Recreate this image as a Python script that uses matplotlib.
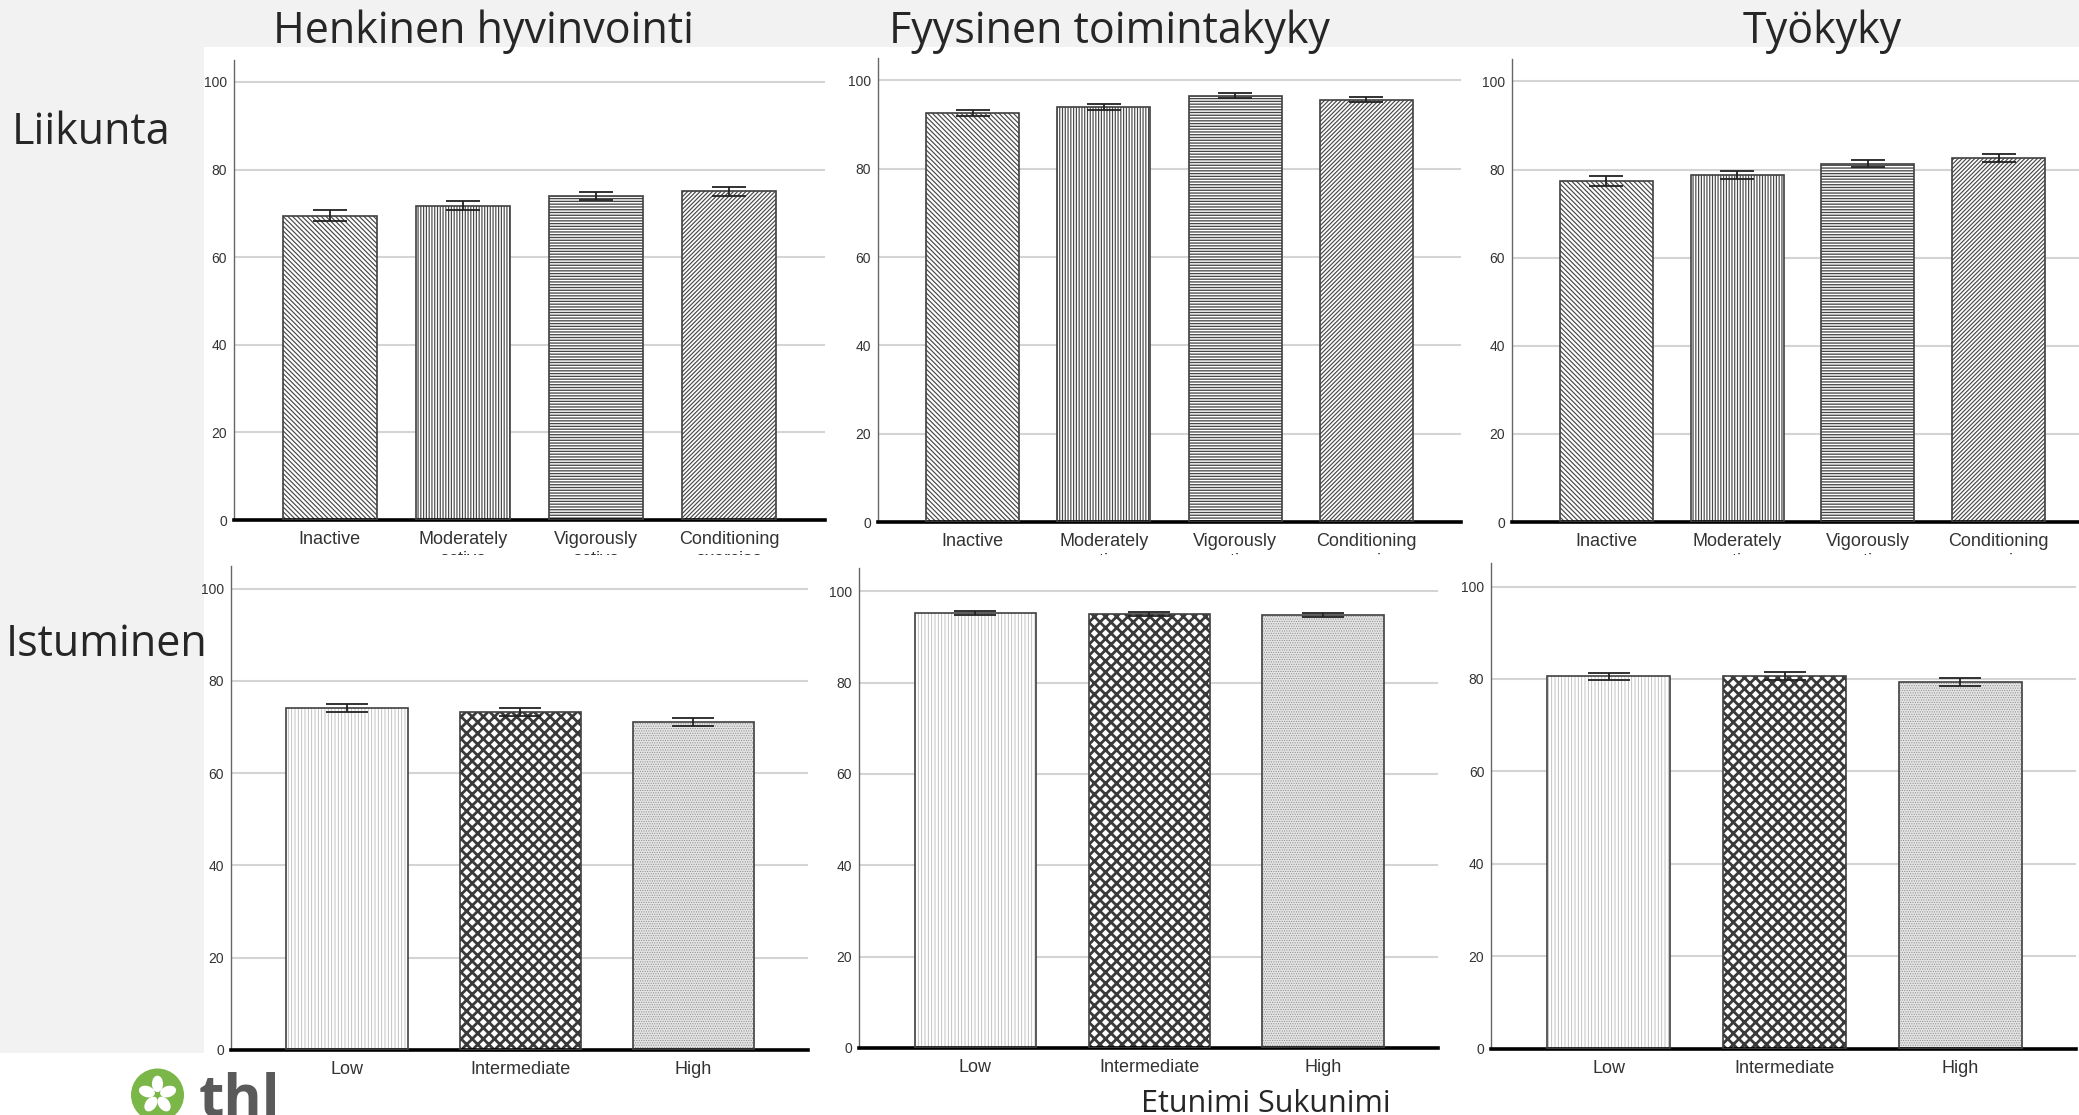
import numpy as np
import matplotlib
matplotlib.use('Agg')
import matplotlib.pyplot as plt
from matplotlib.patches import Rectangle, Circle, Ellipse
from matplotlib.transforms import IdentityTransform

W, H = 2079, 1115

activity_groups = ['Inactive', 'Moderately\nactive', 'Vigorously\nactive', 'Conditioning\nexercise']
sitting_groups = ['Low', 'Intermediate', 'High']

mental_activity = [69.5, 71.8, 74.0, 75.0]
mental_activity_err = [1.2, 1.0, 0.85, 1.05]
physical_activity = [92.6, 93.9, 96.5, 95.6]
physical_activity_err = [0.75, 0.65, 0.55, 0.6]
work_activity = [77.4, 78.8, 81.3, 82.6]
work_activity_err = [1.15, 0.95, 0.75, 0.95]

mental_sitting = [74.1, 73.2, 71.1]
mental_sitting_err = [0.85, 0.85, 0.85]
physical_sitting = [95.2, 95.0, 94.85]
physical_sitting_err = [0.5, 0.5, 0.5]
work_sitting = [80.6, 80.6, 79.3]
work_sitting_err = [0.8, 0.85, 0.85]

column_titles = ['Henkinen hyvinvointi', 'Fyysinen toimintakyky', 'Työkyky']
row_titles = ['Liikunta', 'Istuminen']
presenter = 'Etunimi Sukunimi'

# hatch, hatch colour, face colour, hatch line width
activity_styles = [('\\' * 7, '#484848', 'white', 0.85),
                   ('|' * 6, '#484848', 'white', 0.85),
                   ('-' * 6, '#484848', 'white', 0.95),
                   ('/' * 8, '#484848', 'white', 0.85)]
sitting_styles = [('|' * 5, '#b8b8b8', 'white', 0.6),
                  ('xxx', '#3a3a3a', 'white', 2.0),
                  ('.' * 7, '#8c8c8c', '#e4e4e4', 0.5)]

fig = plt.figure(figsize=(W / 100, H / 100), dpi=100)
fig.patch.set_facecolor('white')


def px_rect(x0, y0, x1, y1, **kw):
    # rectangle given in pixel coords measured from the top-left corner
    r = Rectangle((x0 / W, 1 - y1 / H), (x1 - x0) / W, (y1 - y0) / H,
                  transform=fig.transFigure, **kw)
    fig.add_artist(r)
    return r


# slide background: grey header strip and left band
px_rect(0, 0, W, 47, facecolor='#f2f2f2', edgecolor='none', zorder=-5)
px_rect(0, 47, 204, 1053, facecolor='#f2f2f2', edgecolor='none', zorder=-5)

# the lower chart images sit on top of the upper ones
px_rect(204, 555, W, H, facecolor='white', edgecolor='none', zorder=1)


def place_axes(left, right, y0, y100, z):
    top = y0 - 1.05 * (y0 - y100)
    return fig.add_axes([left / W, 1 - y0 / H, (right - left) / W, (y0 - top) / H], zorder=z)


def draw_panel(ax, labels, values, errors, styles, xlim, width, capsize):
    x = np.arange(len(values))
    for xi, v, (hatch, hcolor, face, hlw) in zip(x, values, styles):
        bars = ax.bar(xi, v, width, color=face, edgecolor=hcolor, hatch=hatch,
                      linewidth=0, zorder=2)
        for b in bars:
            try:
                b.set_hatch_linewidth(hlw)
            except AttributeError:
                pass
    ax.bar(x, values, width, fill=False, edgecolor='#404040', linewidth=1.2, zorder=3)
    ax.errorbar(x, values, yerr=errors, fmt='none', ecolor='#222222',
                elinewidth=1.3, capsize=capsize, capthick=1.3, zorder=4)

    ax.set_xlim(*xlim)
    ax.set_ylim(0, 105)
    ax.set_yticks([0, 20, 40, 60, 80, 100])
    ax.yaxis.grid(True, color='#d4d4d4', linewidth=1.5)
    ax.set_axisbelow(True)
    ax.set_xticks(x, labels)
    for lab in ax.get_xticklabels() + ax.get_yticklabels():
        lab.set_family('Liberation Sans')
    ax.tick_params(axis='x', length=0, pad=8, labelsize=13, labelcolor='#333333')
    ax.tick_params(axis='y', length=0, pad=5, labelsize=10, labelcolor='#333333')

    ax.spines['top'].set_visible(False)
    ax.spines['right'].set_visible(False)
    ax.spines['left'].set_color('#666666')
    ax.spines['left'].set_linewidth(1.0)
    ax.spines['bottom'].set_color('black')
    ax.spines['bottom'].set_linewidth(2.6)
    ax.set_facecolor('white')


top_lim, top_width = (-0.72, 3.72), 0.71
low_lim, low_width = (-0.67, 2.66), 0.70

a1 = place_axes(234, 825, 520, 82, 0)
a2 = place_axes(878, 1461, 522, 80.4, 0)
a3 = place_axes(1512, 2093, 522, 81.4, 0)
draw_panel(a1, activity_groups, mental_activity, mental_activity_err, activity_styles, top_lim, top_width, 12)
draw_panel(a2, activity_groups, physical_activity, physical_activity_err, activity_styles, top_lim, top_width, 12)
draw_panel(a3, activity_groups, work_activity, work_activity_err, activity_styles, top_lim, top_width, 12)

b1 = place_axes(231, 807.6, 1049.7, 588.8, 2)
b2 = place_axes(859, 1438, 1047.9, 591.3, 2)
b3 = place_axes(1491.3, 2076, 1048.6, 586.6, 2)
draw_panel(b1, sitting_groups, mental_sitting, mental_sitting_err, sitting_styles, low_lim, low_width, 15)
draw_panel(b2, sitting_groups, physical_sitting, physical_sitting_err, sitting_styles, low_lim, low_width, 15)
draw_panel(b3, sitting_groups, work_sitting, work_sitting_err, sitting_styles, low_lim, low_width, 15)

# headings
head = dict(family='Open Sans', color='#262626', va='baseline', ha='left', zorder=5)
for x, t in zip([273, 889, 1743], column_titles):
    fig.text(x / W, 1 - 43 / H, t, fontsize=31, **head)
fig.text(12 / W, 1 - 144 / H, row_titles[0], fontsize=31, **head)
fig.text(6 / W, 1 - 656 / H, row_titles[1], fontsize=31, **head)
fig.text(1141 / W, 1 - 1112 / H, presenter, fontsize=22, **head)

# logo in the bottom-left corner
cx, cy, r = 157.5, H - 1095, 26.5
fig.add_artist(Circle((cx, cy), r, facecolor='#7ab648', edgecolor='none',
                      transform=IdentityTransform(), zorder=5))
for k in range(5):
    ang = np.deg2rad(90 + 72 * k)
    fig.add_artist(Ellipse((cx + 0.42 * r * np.cos(ang), cy + 0.42 * r * np.sin(ang)),
                           0.62 * r, 0.42 * r, angle=np.rad2deg(ang), facecolor='white',
                           edgecolor='none', transform=IdentityTransform(), zorder=6))
fig.text(199 / W, 1 - 1072 / H, 'thl', fontsize=42, fontweight='bold', family='Open Sans',
         color='#5a5a5a', ha='left', va='top', zorder=5)

fig.savefig('out.png', dpi=100)
